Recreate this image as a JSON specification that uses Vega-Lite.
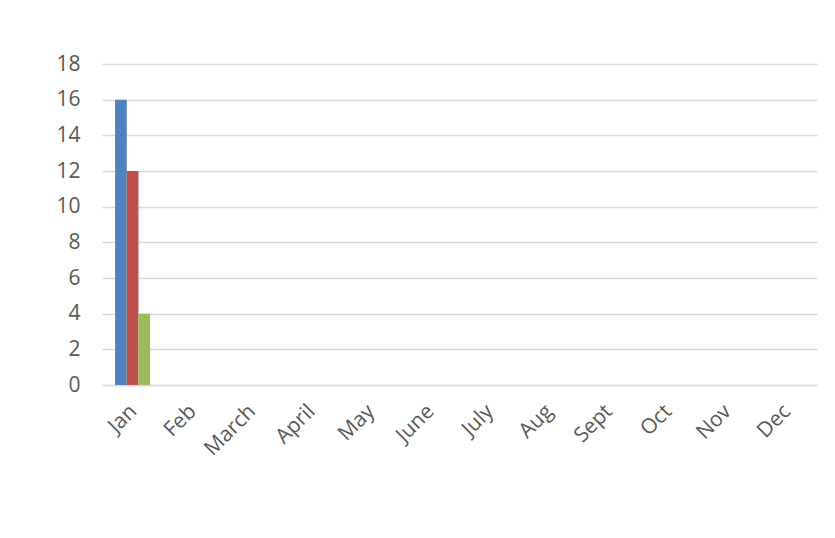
{
  "$schema": "https://vega.github.io/schema/vega-lite/v6.json",
  "autosize": {"type": "none"},
  "width": 715,
  "height": 321,
  "padding": {"left": 102, "top": 64, "right": 18, "bottom": 153},
  "background": "white",
  "data": {
    "values": [
      {"month": "Jan", "series": "Series1", "value": 16},
      {"month": "Jan", "series": "Series2", "value": 12},
      {"month": "Jan", "series": "Series3", "value": 4}
    ]
  },
  "mark": {"type": "bar"},
  "encoding": {
    "x": {
      "field": "month",
      "type": "nominal",
      "sort": null,
      "scale": {
        "domain": ["Jan", "Feb", "March", "April", "May", "June", "July", "Aug", "Sept", "Oct", "Nov", "Dec"],
        "paddingInner": 0.41,
        "paddingOuter": 0.22
      },
      "axis": {
        "title": null,
        "labelAngle": -45,
        "labelAlign": "right",
        "labelBaseline": "middle",
        "labelFont": "Open Sans",
        "labelFontSize": 21,
        "labelColor": "#595959",
        "labelPadding": 23,
        "labelOffset": 1,
        "ticks": false,
        "domainColor": "#d9d9d9",
        "domainWidth": 1.5,
        "grid": false
      }
    },
    "xOffset": {
      "field": "series",
      "type": "nominal",
      "scale": {"paddingInner": 0, "paddingOuter": 0}
    },
    "y": {
      "field": "value",
      "type": "quantitative",
      "scale": {"domain": [0, 18], "nice": false},
      "axis": {
        "title": null,
        "values": [0, 2, 4, 6, 8, 10, 12, 14, 16, 18],
        "labelFont": "Open Sans",
        "labelFontSize": 21,
        "labelColor": "#595959",
        "labelPadding": 22,
        "ticks": false,
        "domain": false,
        "gridColor": "#d9d9d9",
        "gridWidth": 1.5
      }
    },
    "color": {
      "field": "series",
      "type": "nominal",
      "scale": {"range": ["#4f81bd", "#c0504d", "#9bbb59"]},
      "legend": null
    }
  },
  "config": {"view": {"stroke": null}}
}
